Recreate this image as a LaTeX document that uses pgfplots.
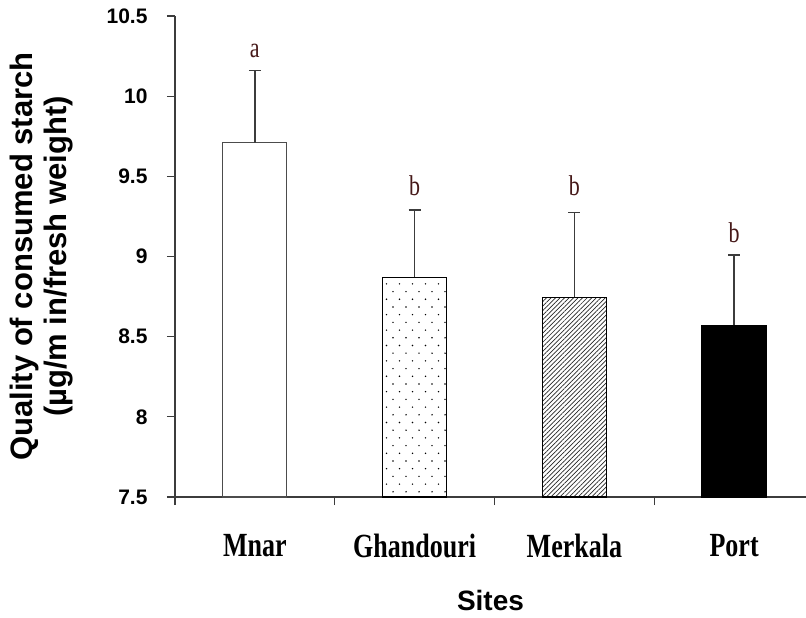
\documentclass[border=0pt]{standalone}
\usepackage{fontspec}
\setmainfont{Liberation Sans}
\newfontfamily\timesfont{Liberation Serif}
\usepackage{pgfplots}
\pgfplotsset{compat=1.18}
\usetikzlibrary{patterns.meta}

\definecolor{lettercol}{RGB}{70,25,25}
\definecolor{axiscol}{RGB}{60,60,60}

\tikzdeclarepattern{
  name=sparse dots,
  type=uncolored,
  bottom left={(-.1pt,-.1pt)},
  top right={(13.1pt,15.5pt)},
  tile size={(13pt,15.4pt)},
  code={
    \pgfpathcircle{\pgfpoint{3pt}{3pt}}{0.8pt}
    \pgfpathcircle{\pgfpoint{9.5pt}{10.7pt}}{0.8pt}
    \pgfusepath{fill}
  }
}

\begin{document}
\begin{tikzpicture}
% frame of the whole picture, 806 x 618
\path[use as bounding box] (-175pt,-121pt) rectangle (631pt,497pt);
\begin{axis}[
  at={(0,0)}, anchor=south west,
  scale only axis,
  width=631pt, height=481pt,
  xmin=0.5, xmax=4.45,
  ymin=7.5, ymax=10.5,
  axis x line=bottom, axis y line=left,
  axis line style={-, draw=axiscol, line width=1.6pt},
  tick style={draw=axiscol, line width=1.2pt},
  tick align=outside,
  major tick length=8pt,
  ytick={7.5,8,...,10.5},
  /pgf/number format/assume math mode=true,
  yticklabel style={font=\bfseries\fontsize{21}{24}\selectfont, xshift=-16pt},
  xtick={0.5,1.5,2.5,3.5},
  xticklabel=\empty,
  extra x ticks={1,2,3,4},
  extra x tick labels={Mnar,Ghandouri,Merkala,Port},
  extra x tick style={major tick length=0pt, tick style={draw=none},
    tick label style={font=\timesfont\bfseries\fontsize{26}{28}\selectfont, yscale=1.3, yshift=-25pt}},
  ylabel={Quality of consumed starch\\(µg/m in/fresh weight)},
  ylabel style={font=\bfseries\fontsize{31}{34}\selectfont, align=center,
    at={(rel axis cs:0,0.5)}, anchor=center, yshift=133pt},
  xlabel={Sites},
  xlabel style={font=\bfseries\fontsize{28}{30}\selectfont,
    at={(rel axis cs:0.5,0)}, anchor=center, yshift=-103pt},
  ybar, bar width=64pt, bar shift=0pt,
  error bars/y dir=plus,
  error bars/y explicit,
  error bars/error bar style={line width=1.3pt, draw=axiscol},
  error bars/error mark options={rotate=90, mark size=6pt, line width=1.8pt, draw=axiscol},
]
\addplot[draw=black!70, line width=1.2pt, fill=white]
  coordinates {(1,9.71) +- (0,0.45)};
\addplot[draw=black, line width=1.6pt, pattern={sparse dots}, pattern color=black]
  coordinates {(2,8.87) +- (0,0.42)};
\addplot[draw=black, line width=1.6pt, pattern={Lines[angle=45, distance=3.2pt, line width=0.7pt]}, pattern color=black!85]
  coordinates {(3,8.745) +- (0,0.53)};
\addplot[draw=black, line width=1.6pt, fill=black]
  coordinates {(4,8.57) +- (0,0.44)};

\begin{scope}[every node/.style={font=\timesfont\fontsize{22}{24}\selectfont, yscale=1.3, text=lettercol}]
\node at (axis cs:1,10.28) {a};
\node at (axis cs:2,9.44) {b};
\node at (axis cs:3,9.44) {b};
\node at (axis cs:4,9.15) {b};
\end{scope}
\end{axis}
\end{tikzpicture}
\end{document}
